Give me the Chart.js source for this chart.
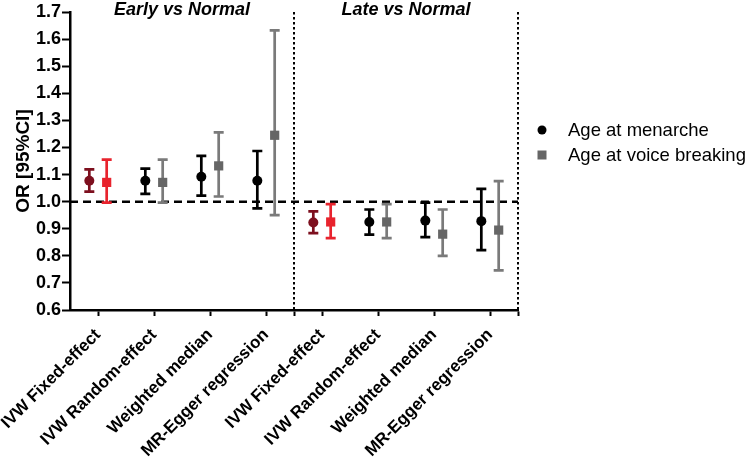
<!DOCTYPE html>
<html>
<head>
<meta charset="utf-8">
<script src="https://cdn.jsdelivr.net/npm/chart.js@4"></script>
<style>
    html, body { margin: 0; padding: 0; background: #fff; }
    #wrap { width: 748px; height: 457px; }
</style>
</head>
<body>
<div id="wrap"><canvas id="grafic"></canvas></div>
<script>
const methods = ['IVW Fixed-effect', 'IVW Random-effect', 'Weighted median', 'MR-Egger regression'];
const groups = ['Early vs Normal', 'Late vs Normal'];
const yTicks = [0.6, 0.7, 0.8, 0.9, 1.0, 1.1, 1.2, 1.3, 1.4, 1.5, 1.6, 1.7];

// odds ratios with 95% CI, early group first then late group
const menarcheOR = [1.077, 1.077, 1.092, 1.077, 0.923, 0.925, 0.930, 0.928];
const menarcheLo = [1.037, 1.029, 1.022, 0.975, 0.884, 0.878, 0.869, 0.821];
const menarcheHi = [1.119, 1.122, 1.169, 1.187, 0.964, 0.971, 0.996, 1.047];

const voiceOR = [1.071, 1.071, 1.132, 1.245, 0.925, 0.925, 0.880, 0.895];
const voiceLo = [0.996, 0.996, 1.019, 0.950, 0.865, 0.865, 0.800, 0.746];
const voiceHi = [1.155, 1.155, 1.256, 1.632, 0.991, 0.991, 0.971, 1.076];

const FONT = "'Liberation Sans', Arial, sans-serif";
Chart.defaults.font.family = FONT;
Chart.defaults.color = '#000';

const labels = groups.flatMap(() => methods);
const slot = i => 2 * i + 1;

function punts(or, lo, hi, shift) {
    return or.map((v, i) => ({ x: slot(i) + shift, y: v, lo: lo[i], hi: hi[i] }));
}

const menCol = labels.map((_, i) => i % 4 === 0 ? '#7d0f1e' : '#000000');
const voiCol = labels.map((_, i) => i % 4 === 0 ? '#e8232d' : '#666666');
const voiBar = labels.map((_, i) => i % 4 === 0 ? '#e8232d' : '#7a7a7a');

const xTicks = [];
labels.forEach((_, i) => xTicks.push(slot(i)));
xTicks.push(8, 16);
xTicks.sort((a, b) => a - b);

const extres = {
    id: 'extres',
    beforeDatasetsDraw(chart) {
        const { ctx, chartArea: a, scales: { x, y } } = chart;
        ctx.save();
        ctx.strokeStyle = '#000';
        ctx.lineWidth = 2.5;
        ctx.setLineDash([8, 5]);
        const y1 = y.getPixelForValue(1.0);
        ctx.beginPath();
        ctx.moveTo(a.left, y1);
        ctx.lineTo(a.right, y1);
        ctx.stroke();

        ctx.setLineDash([2.5, 2.5]);
        ctx.lineWidth = 2;
        [8, 16].forEach(v => {
            const px = x.getPixelForValue(v);
            ctx.beginPath();
            ctx.moveTo(px, a.top);
            ctx.lineTo(px, a.bottom);
            ctx.stroke();
        });

        ctx.setLineDash([]);
        ctx.lineWidth = 2.7;
        chart.data.datasets.forEach(ds => {
            ds.data.forEach((p, i) => {
                const px = x.getPixelForValue(p.x);
                const lo = y.getPixelForValue(p.lo), hi = y.getPixelForValue(p.hi);
                ctx.strokeStyle = ds.barColors[i];
                ctx.beginPath();
                ctx.moveTo(px, lo); ctx.lineTo(px, hi);
                ctx.moveTo(px - 5, lo); ctx.lineTo(px + 5, lo);
                ctx.moveTo(px - 5, hi); ctx.lineTo(px + 5, hi);
                ctx.stroke();
            });
        });
        ctx.restore();
    },
    afterDraw(chart) {
        const { ctx, chartArea: a, scales: { x } } = chart;
        ctx.save();
        ctx.fillStyle = '#000';
        ctx.font = 'italic bold 18px ' + FONT;
        ctx.textAlign = 'center';
        ctx.textBaseline = 'middle';
        groups.forEach((g, k) => {
            ctx.fillText(g, (x.getPixelForValue(8 * k) + x.getPixelForValue(8 * k + 8)) / 2, 10);
        });

        // llegenda
        const lx = a.right + 24;
        ctx.font = '18.5px ' + FONT;
        ctx.textAlign = 'left';
        chart.data.datasets.forEach((ds, di) => {
            const ly = a.top + 118 + di * 25;
            ctx.fillStyle = ds.legendColor;
            ctx.beginPath();
            if (ds.pointStyle === 'circle') ctx.arc(lx, ly, 4.5, 0, Math.PI * 2);
            else ctx.rect(lx - 4.5, ly - 4.5, 9, 9);
            ctx.fill();
            ctx.fillStyle = '#000';
            ctx.fillText(ds.label, lx + 26, ly + 1);
        });
        ctx.restore();
    }
};

new Chart(document.getElementById('grafic').getContext('2d'), {
    type: 'scatter',
    data: {
        datasets: [{
            label: 'Age at menarche',
            data: punts(menarcheOR, menarcheLo, menarcheHi, -0.31),
            pointStyle: 'circle',
            pointRadius: 5,
            pointHoverRadius: 5,
            backgroundColor: menCol,
            borderColor: menCol,
            borderWidth: 0,
            barColors: menCol,
            legendColor: '#000'
        }, {
            label: 'Age at voice breaking',
            data: punts(voiceOR, voiceLo, voiceHi, 0.31),
            pointStyle: 'rect',
            pointRadius: 6.5,
            pointHoverRadius: 6.5,
            backgroundColor: voiCol,
            borderColor: voiCol,
            borderWidth: 0,
            barColors: voiBar,
            legendColor: '#666666'
        }]
    },
    options: {
        responsive: true,
        maintainAspectRatio: false,
        animation: false,
        layout: { padding: { left: 8, top: 12, right: 230, bottom: 0 } },
        plugins: {
            legend: { display: false },
            tooltip: { enabled: false }
        },
        scales: {
            x: {
                type: 'linear',
                min: 0,
                max: 16,
                afterBuildTicks: s => { s.ticks = xTicks.map(v => ({ value: v })); },
                afterFit: s => { s.height = 147; s.paddingLeft = 0; s.paddingRight = 0; },
                ticks: {
                    autoSkip: false,
                    minRotation: 45,
                    maxRotation: 45,
                    padding: 9,
                    font: { size: 17, weight: 'bold' },
                    callback: v => v % 2 === 1 ? labels[(v - 1) / 2] : ''
                },
                grid: { display: true, drawOnChartArea: false, tickLength: 6, tickWidth: 2, tickColor: '#000' },
                border: { display: true, width: 2.5, color: '#000' }
            },
            y: {
                min: 0.6,
                max: 1.7,
                afterBuildTicks: s => { s.ticks = yTicks.map(v => ({ value: v })); },
                afterFit: s => { s.width = 62; },
                ticks: {
                    padding: 1,
                    font: { size: 18, weight: 'bold' },
                    callback: v => v.toFixed(1)
                },
                title: { display: true, text: 'OR [95%CI]', font: { size: 19, weight: 'bold' } },
                grid: { display: true, drawOnChartArea: false, tickLength: 8, tickWidth: 2, tickColor: '#000' },
                border: { display: true, width: 2.5, color: '#000' }
            }
        }
    },
    plugins: [extres]
});
</script>
</body>
</html>
